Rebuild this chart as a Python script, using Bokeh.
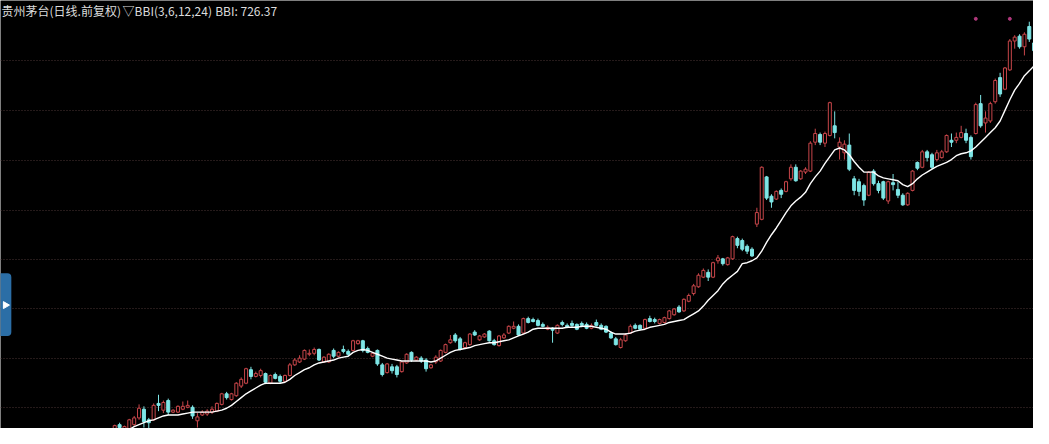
from bokeh.plotting import figure
from bokeh.models import ColumnDataSource, Range1d, Label, BoxAnnotation, Grid, FixedTicker
from bokeh.embed import file_html
from bokeh.resources import INLINE
import math

# ---------------- data ----------------
opens = [348,354,350,348,354,361,370,359,359,376,369,379,367,367,370,372,372,358,364,365,
         367,368,375,386,380,384,394,397,411,404,405,407,397,406,404,399,405,416,419,422,
         427,428,432,419,419,431,425,432,430,431,438,441,433,425,431,416,408,414,414,409,
         418,429,421,423,421,413,419,420,429,439,447,443,434,437,450,442,445,451,441,436,
         444,449,454,456,449,464,463,462,458,453,454,449,460,457,459,458,459,458,454,460,
         457,456,449,443,434,441,449,457,457,454,464,463,459,460,464,468,476,472,482,490,
         497,507,512,507,524,526,520,526,547,545,539,536,562,567,611,591,588,597,596,609,
         621,609,616,617,647,655,646,654,664,642,636,644,609,606,602,592,617,604,606,586,
         605,598,592,582,597,626,621,637,634,629,631,637,649,649,652,656,652,656,687,667,
         669,689,714,702,722,752,757,746,767,750]
highs = [354,356,353,360,363,375,373,361,376,385,379,381,370,374,378,379,374,366,369,370,
         373,377,387,388,387,398,403,413,414,409,412,408,406,408,406,406,418,423,426,432,
         432,434,433,425,428,433,430,436,432,442,442,442,435,429,432,418,418,417,416,420,
         428,430,425,425,423,417,426,432,438,447,449,445,440,449,452,447,449,452,443,447,
         449,457,461,458,465,466,465,464,460,457,455,458,462,459,462,459,461,460,459,463,
         459,457,451,445,444,449,458,459,458,464,467,465,464,466,473,475,478,485,490,500,
         511,516,515,523,530,527,528,550,549,547,541,538,579,622,612,593,597,599,607,624,
         624,618,621,648,661,657,658,689,679,652,649,656,612,609,604,617,619,607,607,607,
         614,606,594,595,618,627,639,639,636,639,639,655,656,657,664,661,654,688,696,679,
         689,713,719,725,754,758,759,761,772,752]
lows = [346,348,348,347,352,359,351,350,358,368,366,364,366,366,369,371,360,351,363,363,
        365,367,374,380,379,383,392,396,401,403,403,396,396,401,397,398,404,415,418,421,
        425,426,420,418,418,423,424,428,425,430,437,429,428,424,415,404,407,407,403,408,
        417,419,420,418,409,412,417,419,428,438,439,431,433,436,446,441,444,440,436,435,
        443,448,453,446,448,459,460,456,455,452,439,448,456,454,455,452,455,453,453,456,
        452,449,443,436,433,440,448,453,452,453,460,459,458,459,463,467,470,471,481,488,
        496,506,503,506,521,519,519,525,537,534,531,528,559,566,587,579,587,589,595,607,
        606,608,614,616,644,644,642,653,651,629,629,617,592,591,581,591,602,594,587,583,
        597,589,581,581,596,618,620,627,619,627,630,636,642,646,651,646,629,655,662,657,
        667,687,694,701,721,744,744,737,751,740]
closes = [353,351,352,359,361,371,357,356,374,374,377,367,369,373,373,374,363,362,367,368,
          370,376,386,382,386,397,401,412,404,407,410,398,405,402,399,405,416,421,423,431,
          428,432,421,424,427,425,429,430,427,441,441,431,429,428,417,406,417,410,406,419,
          427,421,424,420,412,416,424,431,437,442,441,432,439,448,447,446,448,441,437,446,
          447,456,456,447,464,460,461,457,456,455,452,457,458,455,457,453,457,454,457,457,
          453,450,444,437,442,447,456,454,453,463,461,461,463,465,472,474,471,484,488,498,
          509,514,507,522,527,521,527,549,540,536,534,529,574,621,589,585,596,593,606,621,
          607,617,619,646,656,647,656,688,657,647,645,619,597,596,587,616,604,597,589,606,
          603,592,582,594,617,620,637,631,621,636,637,654,647,652,657,649,632,686,664,672,
          687,711,697,724,752,756,746,759,754,742]
bbi = [342,344,347,349,352,354,356,358,359,361,363,364,364,364,365,366,367,367,367,367,
       367,368,369,371,374,378,382,386,389,392,395,397,397,397,397,398,401,405,408,411,
       413,416,418,419,420,421,423,424,425,429,431,432,431,429,427,425,423,422,421,420,
       420,420,420,420,420,419,420,423,426,429,431,432,433,434,436,437,438,439,439,440,
       441,442,444,446,448,450,453,454,454,454,454,454,454,455,455,455,456,456,456,455,
       454,453,450,448,448,448,449,451,452,453,455,456,457,458,460,461,462,463,466,469,
       472,477,483,488,493,500,505,509,513,521,522,524,527,534,543,551,558,566,574,581,
       586,590,595,604,611,617,625,632,639,641,639,634,627,621,616,616,616,612,610,609,
       608,607,603,601,604,609,613,616,619,622,624,626,629,633,635,636,638,642,647,652,
       657,662,669,680,691,701,708,716,721,726.37]
grid_levels = [372, 423, 474, 525, 576.5, 628, 680, 732]
marker_days = [177, 184]
marker_level = [775, 775]
title_name = "贵州茅台(日线.前复权)"
title_ind = "▽BBI(3,6,12,24)"
title_val = "BBI: 726.37"

# ---------------- layout helpers (reference pixel -> data) ----------------
W, H = 1033, 428
X0, STEP = 116.0, 4.94          # pixel of first candle, candle spacing
TOP = 794.0                      # price at top edge


def dx(px):
    return (px - X0) / STEP


def dy(py):
    return TOP - py


UP = "#c8464a"
DOWN = "#7ee6e6"

n = len(closes)
idx = list(range(n))
is_up = [c >= o for o, c in zip(opens, closes)]
src = ColumnDataSource(dict(
    x=idx, o=opens, h=highs, l=lows, c=closes,
    top=[max(o, c) for o, c in zip(opens, closes)],
    bot=[min(o, c) for o, c in zip(opens, closes)],
    col=[UP if u else DOWN for u in is_up],
    fill=["#000000" if u else DOWN for u in is_up],
))

p = figure(width=W, height=H, output_backend="svg", toolbar_location=None,
           x_range=Range1d(dx(0), dx(1049)), y_range=Range1d(dy(444), dy(0)),
           x_axis_location=None, y_axis_location=None, min_border=0,
           background_fill_color="#000000", border_fill_color="#000000",
           outline_line_color=None)
p.grid.visible = False

g = Grid(dimension=1, ticker=FixedTicker(ticks=grid_levels),
         grid_line_color="#4a3434", grid_line_dash="1 2", grid_line_width=1)
p.add_layout(g)

p.segment(x0="x", y0="l", x1="x", y1="h", color="col", line_width=1, source=src)
p.vbar(x="x", top="top", bottom="bot", width=0.62, fill_color="fill",
       line_color="col", line_width=1, source=src)

p.line(idx, bbi, line_color="#ffffff", line_width=1.4)

p.scatter(marker_days, marker_level, size=3, color="#b0387c")

# left tab
p.add_layout(BoxAnnotation(left=dx(-6), right=dx(11), top=dy(283), bottom=dy(348),
                           fill_color="#2b6ea6", fill_alpha=1, line_color=None,
                           border_radius=4, level="underlay"))
p.scatter([dx(5)], [dy(316)], marker="triangle", size=7, angle=-math.pi / 2,
          color="#ffffff", level="overlay")

font = "Noto Sans CJK SC"
for tx, px in ((title_name, 1), (title_ind, 124), (title_val, 218)):
    p.add_layout(Label(x=dx(px), y=dy(2), text=tx, text_baseline="top",
                       text_font=font, text_font_size="12px", text_color="#dcdcdc"))

open("out.html", "w").write(file_html(p, INLINE))
